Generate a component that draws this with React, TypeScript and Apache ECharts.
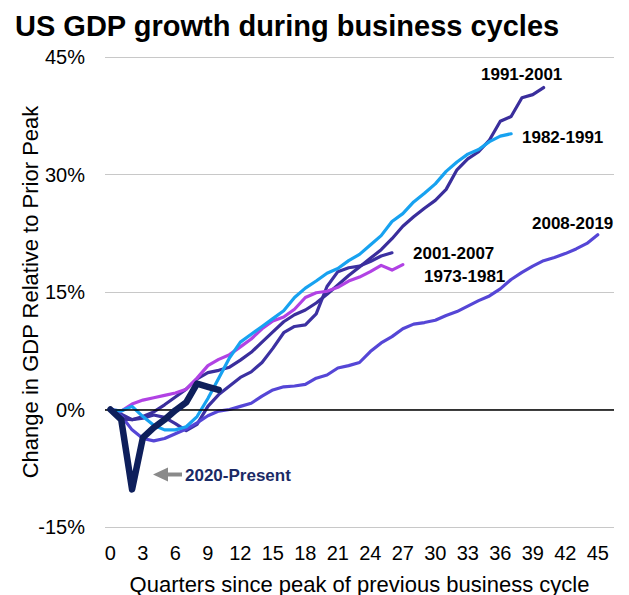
import React, { useEffect, useRef } from "react";
import * as echarts from "echarts";

const quarters = [
  "0","1","2","3","4","5","6","7","8","9","10","11","12","13","14","15",
  "16","17","18","19","20","21","22","23","24","25","26","27","28","29","30","31",
  "32","33","34","35","36","37","38","39","40","41","42","43","44","45","46",
];

const cycle1973 = [0, -0.6, -1.3, -1.1, -0.7, -1.0, -1.8, -2.7, -1.9, 0.4, 1.9, 3.0, 4.1, 4.8, 6.0, 7.8, 9.8, 10.6, 10.8, 12.2, 15.7, 17.6, 18.1, 18.3, 18.9, 19.6, 20.0];
const cycle1982 = [0, -0.2, 0.4, -0.9, -2.0, -2.6, -2.6, -2.2, -0.9, 1.4, 4.0, 6.6, 8.6, 9.6, 10.6, 11.6, 12.6, 14.3, 15.5, 16.4, 17.4, 18.0, 19.0, 19.8, 21.0, 22.2, 24.0, 25.0, 26.5, 27.6, 28.8, 30.4, 31.6, 32.6, 33.2, 34.2, 34.9, 35.2];
const cycle1991 = [0, -1.2, -1.3, -0.9, -0.3, 0.6, 1.6, 2.6, 3.9, 4.7, 5.0, 5.4, 6.3, 7.3, 8.6, 9.9, 11.2, 12.1, 12.7, 13.6, 14.7, 15.9, 17.1, 18.2, 19.3, 20.4, 21.8, 23.4, 24.6, 25.7, 26.7, 28.1, 30.6, 32.0, 32.9, 34.4, 36.8, 37.4, 39.8, 40.2, 41.1];
const cycle2001 = [0, -0.2, 0.7, 1.2, 1.5, 1.8, 2.1, 2.6, 4.0, 5.6, 6.4, 7.0, 8.0, 9.0, 10.3, 11.3, 11.8, 12.8, 14.3, 14.9, 15.1, 15.6, 16.4, 16.9, 17.6, 18.4, 17.8, 18.5];
const cycle2008 = [0, -0.8, -2.6, -3.7, -4.0, -3.7, -3.1, -2.5, -1.7, -0.8, -0.2, 0.0, 0.4, 0.8, 1.7, 2.5, 2.9, 3.0, 3.2, 4.0, 4.4, 5.3, 5.6, 6.0, 7.4, 8.5, 9.3, 10.3, 10.9, 11.1, 11.4, 12.0, 12.5, 13.2, 13.9, 14.5, 15.4, 16.6, 17.5, 18.3, 19.0, 19.4, 19.9, 20.5, 21.2, 22.3];
const cycle2020 = [0, -1.3, -10.2, -3.6, -2.3, -1.3, -0.1, 0.9, 3.3, 2.9, 2.5];

const yTicks = { min: -15, max: 45, step: 15 };

const FONT = "'Liberation Sans', Arial, sans-serif";

export default function App() {
  const ref = useRef<HTMLDivElement>(null);

  useEffect(() => {
    document.body.style.margin = "0";
    if (!ref.current) return;
    const chart = echarts.init(ref.current, null, { renderer: "svg" });

    const mkLine = (name: string, data: number[], color: string, width: number, z: number) => ({
      name,
      type: "line",
      data,
      symbol: "none",
      z,
      lineStyle: { color, width, cap: "round", join: "round" },
      emphasis: { disabled: true },
    });

    const label = (text: string, x: number, y: number, color = "#000") => ({
      type: "text",
      x,
      y,
      z: 100,
      style: {
        text,
        fill: color,
        font: `bold 17px ${FONT}`,
        textAlign: "left",
        textVerticalAlign: "middle",
      },
    });

    chart.setOption({
      animation: false,
      textStyle: { fontFamily: FONT },
      title: {
        text: "US GDP growth during business cycles",
        left: 10,
        top: 6,
        textStyle: { fontSize: 29, fontWeight: "bold", color: "#000", fontFamily: FONT },
      },
      grid: { left: 105, right: 15, top: 57, bottom: 68, outerBoundsMode: "none", containLabel: false },
      xAxis: {
        type: "category",
        data: quarters,
        boundaryGap: true,
        axisLine: { show: false },
        axisTick: { show: false },
        axisLabel: { interval: 2, fontSize: 20, color: "#000", margin: 16, fontFamily: FONT },
        splitLine: { show: false },
        name: "Quarters since peak of previous business cycle",
        nameLocation: "middle",
        nameGap: 46,
        nameMoveOverlap: false,
        nameTextStyle: { fontSize: 22, color: "#000", fontFamily: FONT },
      },
      yAxis: {
        type: "value",
        min: yTicks.min,
        max: yTicks.max,
        interval: yTicks.step,
        axisLine: { show: false },
        axisTick: { show: false },
        axisLabel: { formatter: "{value}%", fontSize: 20, color: "#000", margin: 20, fontFamily: FONT },
        splitLine: { lineStyle: { color: "#c8c8c8", width: 1.2 } },
        name: "Change in GDP Relative to Prior Peak",
        nameLocation: "middle",
        nameGap: 64,
        nameMoveOverlap: false,
        nameTextStyle: { fontSize: 22, color: "#000", fontFamily: FONT },
      },
      series: [
        {
          name: "zero",
          type: "line",
          data: [],
          z: 1,
          markLine: {
            silent: true,
            symbol: "none",
            label: { show: false },
            lineStyle: { color: "#000", width: 1.6, type: "solid" },
            data: [{ yAxis: 0 }],
          },
        },
        mkLine("1973-1981", cycle1973, "#3c31a2", 3.2, 2),
        mkLine("2008-2019", cycle2008, "#5546d6", 3.2, 2),
        mkLine("1991-2001", cycle1991, "#3a2e9c", 3.2, 3),
        mkLine("2001-2007", cycle2001, "#b142e4", 3.2, 3),
        mkLine("1982-1991", cycle1982, "#17a2f0", 3.2, 3),
        mkLine("2020-Present", cycle2020, "#0e1f5b", 6.5, 5),
      ],
      graphic: [
        label("1991-2001", 481, 74),
        label("1982-1991", 522, 137),
        label("2008-2019", 532, 223),
        label("2001-2007", 413, 253),
        label("1973-1981", 424, 276),
        label("2020-Present", 185, 475, "#1b2a66"),
        {
          type: "polygon",
          z: 100,
          shape: { points: [[153, 474.5], [168, 467.5], [168, 481.5]] },
          style: { fill: "#8a8a8a" },
        },
        {
          type: "rect",
          z: 100,
          shape: { x: 166, y: 472.5, width: 16, height: 4 },
          style: { fill: "#8a8a8a" },
        },
      ],
    });

    return () => chart.dispose();
  }, []);

  return <div ref={ref} style={{ width: 629, height: 595 }} />;
}
